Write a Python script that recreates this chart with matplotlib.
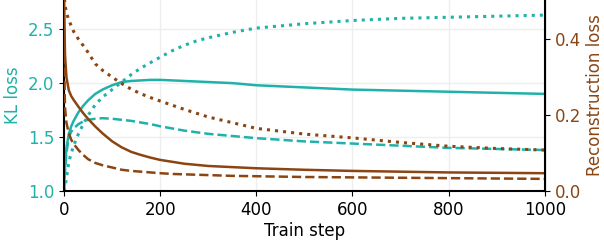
import matplotlib.pyplot as plt

steps = [0, 2, 5, 10, 15, 20, 30, 40, 50, 65, 80, 100, 120, 140, 160, 180, 200,
         225, 250, 275, 300, 350, 400, 500, 600, 700, 800, 900, 1000]

kl_solid = [1.0, 1.22, 1.4, 1.53, 1.6, 1.65, 1.73, 1.79, 1.84, 1.9, 1.94, 1.98, 2.01,
            2.02, 2.025, 2.03, 2.03, 2.025, 2.02, 2.015, 2.01, 2.0, 1.98, 1.96, 1.94,
            1.93, 1.92, 1.91, 1.90]
kl_dashed = [1.0, 1.18, 1.35, 1.5, 1.55, 1.58, 1.62, 1.645, 1.66, 1.67, 1.675, 1.67,
             1.66, 1.65, 1.635, 1.62, 1.6, 1.58, 1.56, 1.545, 1.53, 1.51, 1.49, 1.46,
             1.44, 1.42, 1.40, 1.39, 1.38]
kl_dotted = [1.0, 1.04, 1.12, 1.27, 1.35, 1.42, 1.53, 1.62, 1.7, 1.8, 1.87, 1.94, 2.01,
             2.08, 2.14, 2.19, 2.24, 2.3, 2.35, 2.39, 2.42, 2.47, 2.51, 2.55, 2.58,
             2.60, 2.61, 2.62, 2.63]

rec_solid = [0.52, 0.36, 0.30, 0.265, 0.25, 0.24, 0.222, 0.205, 0.19, 0.17, 0.152,
             0.131, 0.115, 0.103, 0.095, 0.088, 0.082, 0.077, 0.072, 0.069, 0.066,
             0.063, 0.06, 0.056, 0.053, 0.051, 0.049, 0.048, 0.047]
rec_dashed = [0.36, 0.22, 0.18, 0.152, 0.135, 0.124, 0.108, 0.095, 0.084, 0.074, 0.068,
              0.062, 0.056, 0.053, 0.051, 0.049, 0.047, 0.045, 0.044, 0.043, 0.042,
              0.040, 0.039, 0.037, 0.036, 0.035, 0.034, 0.033, 0.032]
rec_dotted = [0.52, 0.49, 0.47, 0.45, 0.435, 0.42, 0.40, 0.383, 0.365, 0.335, 0.318,
              0.30, 0.283, 0.268, 0.256, 0.246, 0.237, 0.226, 0.215, 0.205, 0.195,
              0.18, 0.165, 0.15, 0.14, 0.128, 0.118, 0.112, 0.108]

teal = '#20b2aa'
brown = '#8b4513'

plt.rcParams['font.size'] = 12

fig, ax = plt.subplots(figsize=(6.04, 2.44), dpi=100)
fig.subplots_adjust(left=0.106, right=0.902, bottom=0.217, top=1.0)

ax.plot(steps, kl_solid, color=teal, lw=1.8)
ax.plot(steps, kl_dashed, color=teal, lw=1.8, ls='--')
ax.plot(steps, kl_dotted, color=teal, lw=2.2, ls=':')
ax.set_xlim(0, 1000)
ax.set_ylim(1.0, 2.77)
ax.set_yticks([1.0, 1.5, 2.0, 2.5])
ax.set_xlabel('Train step', labelpad=2)
ax.set_ylabel('KL loss', color=teal, labelpad=4)
ax.tick_params(axis='y', labelcolor=teal)
ax.grid(color='#eeeeee', lw=1)
ax.spines['top'].set_visible(False)
ax.spines['left'].set_linewidth(1.5)
ax.spines['bottom'].set_linewidth(1.5)

ax2 = ax.twinx()
ax2.plot(steps, rec_solid, color=brown, lw=1.8)
ax2.plot(steps, rec_dashed, color=brown, lw=1.8, ls='--')
ax2.plot(steps, rec_dotted, color=brown, lw=2.2, ls=':')
ax2.set_ylim(0, 0.503)
ax2.set_yticks([0.0, 0.2, 0.4])
ax2.set_ylabel('Reconstruction loss', color=brown, labelpad=4)
ax2.tick_params(axis='y', labelcolor=brown)
ax2.spines['top'].set_visible(False)
ax2.spines['right'].set_linewidth(1.5)
ax2.spines['left'].set_visible(False)
ax2.spines['bottom'].set_visible(False)

fig.savefig('out.png')
